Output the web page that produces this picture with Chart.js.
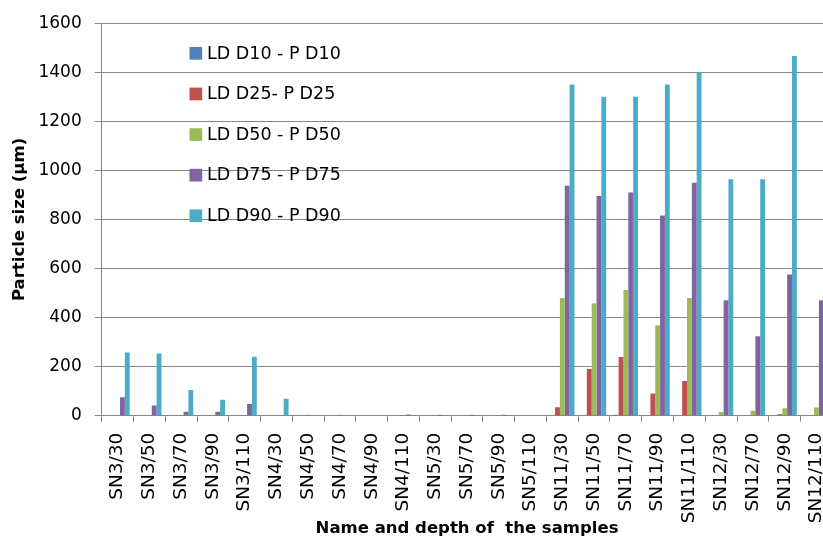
<!DOCTYPE html>
<html>
<head>
<meta charset="utf-8">
<script src="https://cdn.jsdelivr.net/npm/chart.js@4/dist/chart.umd.min.js"></script>
<style>
  html, body { margin: 0; padding: 0; background: #ffffff; overflow: hidden; }
  #wrap { width: 850px; height: 545px; }
</style>
</head>
<body>
<div id="wrap"><canvas id="c" width="850" height="545"></canvas></div>
<script>
const categories = ["SN3/30","SN3/50","SN3/70","SN3/90","SN3/110","SN4/30","SN4/50","SN4/70","SN4/90","SN4/110","SN5/30","SN5/70","SN5/90","SN5/110","SN11/30","SN11/50","SN11/70","SN11/90","SN11/110","SN12/30","SN12/70","SN12/90","SN12/110"];
const seriesNames = ["LD D10 - P D10","LD D25- P D25","LD D50 - P D50","LD D75 - P D75","LD D90 - P D90"];
const d10 = [0,0,0,0,0,0,0,0,0,0,0,0,0,0,0,0,4,0,0,0,0,0,0];
const d25 = [0,0,0,0,0,0,0,0,0,0,0,0,0,0,34,190,239,91,141,0,0,6,0];
const d50 = [0,0,0,0,0,0,4,4,0,0,3,3,0,0,480,458,512,369,480,15,20,30,33];
const d75 = [75,42,16,16,48,0,0,0,0,5,4,4,4,0,937,896,910,816,950,471,324,576,471];
const d90 = [258,254,105,65,240,69,0,0,0,0,0,0,0,0,1350,1300,1300,1350,1400,964,964,1466,960];
const yTicks = [0,200,400,600,800,1000,1200,1400,1600];
const yTitle = "Particle size (µm)";
const xTitle = "Name and depth of  the samples";

const colors = ["#4F81BD","#C0504D","#9BBB59","#8064A2","#4BACC6"];
const values = [d10,d25,d50,d75,d90];

const legendPlugin = {
  id: 'innerLegend',
  afterDatasetsDraw(chart) {
    const ctx = chart.ctx;
    ctx.save();
    ctx.font = '17.5px "DejaVu Sans"';
    ctx.textBaseline = 'middle';
    ctx.textAlign = 'left';
    chart.data.datasets.forEach((ds, i) => {
      const cy = 53.5 + i * 40.6;
      ctx.fillStyle = ds.backgroundColor;
      ctx.fillRect(189.5, cy - 6.5, 12.7, 12.7);
      ctx.fillStyle = '#000000';
      ctx.fillText(ds.label, 207, cy + 0.5);
    });
    ctx.restore();
  }
};

new Chart(document.getElementById('c'), {
  type: 'bar',
  data: {
    labels: categories,
    datasets: seriesNames.map((n, i) => ({
      label: n,
      data: values[i],
      backgroundColor: colors[i],
      borderWidth: 0,
      categoryPercentage: 0.762,
      barPercentage: 1.0
    }))
  },
  options: {
    responsive: false,
    devicePixelRatio: 1,
    animation: false,
    layout: { padding: { left: 0, right: 14, top: 23, bottom: 0 } },
    plugins: {
      legend: { display: false },
      tooltip: { enabled: false }
    },
    scales: {
      x: {
        offset: true,
        grid: {
          offset: true,
          drawOnChartArea: false,
          drawTicks: true,
          tickLength: 6,
          color: '#868686'
        },
        border: { color: '#868686', width: 1 },
        ticks: {
          autoSkip: false,
          minRotation: 90,
          maxRotation: 90,
          padding: 11,
          color: '#000000',
          font: { family: 'DejaVu Sans', size: 18.5 }
        },
        title: {
          display: true,
          text: xTitle,
          color: '#000000',
          font: { family: 'DejaVu Sans', size: 16.5, weight: 'bold' },
          padding: { top: 0, bottom: 6 }
        },
        afterFit(scale) { scale.height = 545 - 415.7; }
      },
      y: {
        min: 0,
        max: 1600,
        afterBuildTicks(scale) { scale.ticks = yTicks.map(v => ({ value: v })); },
        grid: {
          color: '#868686',
          lineWidth: 1,
          drawTicks: true,
          tickLength: 7
        },
        border: { color: '#868686', width: 1 },
        ticks: {
          padding: 13,
          color: '#000000',
          font: { family: 'DejaVu Sans', size: 17 },
          callback: (v) => String(v)
        },
        title: {
          display: true,
          text: yTitle,
          color: '#000000',
          font: { family: 'DejaVu Sans', size: 16.5, weight: 'bold' },
          padding: { top: 10, bottom: 0 }
        },
        afterFit(scale) { scale.width = 101.7; }
      }
    }
  },
  plugins: [legendPlugin]
});
</script>
</body>
</html>
